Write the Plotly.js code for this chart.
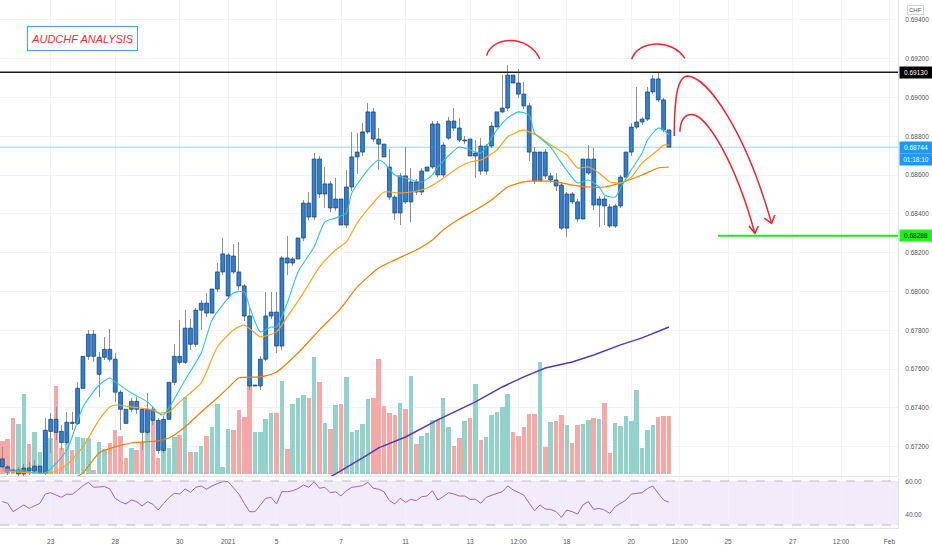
<!DOCTYPE html>
<html><head><meta charset="utf-8">
<script src="https://cdn.plot.ly/plotly-3.0.1.min.js"></script>
<style>html,body{margin:0;padding:0;background:#fff}#chart{width:932px;height:550px}</style>
</head><body><div id="chart"></div>
<script>
// ---- data (AUDCHF, 4h candles) ----
const openP = [0.67137,0.67096,0.67070,0.67080,0.67060,0.67090,0.67075,0.67100,0.67063,0.67279,
0.67341,0.67279,0.67222,0.67326,0.67320,0.67501,0.67666,0.67780,0.67661,0.67661,
0.67702,0.67651,0.67481,0.67393,0.67393,0.67434,0.67393,0.67274,0.67393,0.67336,
0.67181,0.67341,0.67532,0.67666,0.67635,0.67811,0.67728,0.67904,0.67940,0.67889,
0.68013,0.68101,0.67977,0.68183,0.68101,0.68029,0.67874,0.67513,0.67513,0.67651,
0.67874,0.67894,0.67719,0.68173,0.68147,0.68168,0.68276,0.68456,0.68384,0.68683,
0.68503,0.68555,0.68431,0.68477,0.68343,0.68539,0.68694,0.68719,0.68823,0.68926,
0.68786,0.68760,0.68642,0.68487,0.68405,0.68596,0.68462,0.68565,0.68513,0.68621,
0.68642,0.68864,0.68601,0.68791,0.68879,0.68843,0.68781,0.68786,0.68699,0.68750,
0.68621,0.68750,0.68848,0.68926,0.68946,0.69116,0.69075,0.69018,0.68957,0.68719,
0.68570,0.68719,0.68596,0.68575,0.68549,0.68327,0.68503,0.68462,0.68374,0.68611,
0.68683,0.68446,0.68477,0.68436,0.68338,0.68441,0.68590,0.68719,0.68848,0.68874,
0.68889,0.69029,0.69096,0.68988,0.68833];
const highP = [0.67199,0.67106,0.67100,0.67095,0.67110,0.67120,0.67130,0.67115,0.67347,0.67372,
0.67403,0.67310,0.67377,0.67377,0.67532,0.67687,0.67800,0.67800,0.67687,0.67764,
0.67806,0.67682,0.67490,0.67439,0.67450,0.67455,0.67400,0.67475,0.67410,0.67350,
0.67360,0.67584,0.67728,0.67852,0.67904,0.67857,0.67915,0.67955,0.67992,0.68198,
0.68147,0.68276,0.68200,0.68245,0.68255,0.68040,0.67915,0.67540,0.67670,0.67998,
0.67998,0.67998,0.68185,0.68286,0.68180,0.68359,0.68470,0.68513,0.68714,0.68700,
0.68642,0.68570,0.68585,0.68490,0.68627,0.68823,0.68817,0.68870,0.68972,0.68946,
0.68843,0.68807,0.68735,0.68500,0.68610,0.68745,0.68637,0.68580,0.68635,0.68655,
0.68880,0.68880,0.68770,0.68900,0.68946,0.68895,0.68800,0.68817,0.68781,0.68791,
0.68760,0.68874,0.68962,0.69116,0.69168,0.69168,0.69147,0.69080,0.68970,0.68745,
0.68745,0.68735,0.68610,0.68610,0.68560,0.68515,0.68515,0.68475,0.68755,0.68755,
0.68740,0.68490,0.68490,0.68450,0.68450,0.68600,0.68730,0.68870,0.69054,0.68900,
0.69054,0.69116,0.69126,0.69000,0.68936];
const lowP = [0.67090,0.67054,0.67050,0.67040,0.67045,0.67055,0.67060,0.67050,0.67052,0.67166,
0.67233,0.67181,0.67207,0.67285,0.67310,0.67465,0.67645,0.67635,0.67455,0.67645,
0.67635,0.67429,0.67284,0.67284,0.67380,0.67370,0.67181,0.67260,0.67310,0.67160,
0.67165,0.67330,0.67520,0.67620,0.67625,0.67700,0.67715,0.67801,0.67870,0.67842,
0.68000,0.68085,0.67960,0.68090,0.68010,0.67850,0.67490,0.67490,0.67490,0.67640,
0.67860,0.67683,0.67700,0.68085,0.68130,0.68044,0.68260,0.68370,0.68370,0.68480,
0.68431,0.68410,0.68415,0.68330,0.68328,0.68520,0.68606,0.68700,0.68810,0.68770,
0.68626,0.68680,0.68470,0.68369,0.68343,0.68450,0.68359,0.68500,0.68498,0.68610,
0.68630,0.68590,0.68590,0.68780,0.68830,0.68770,0.68760,0.68690,0.68585,0.68600,
0.68600,0.68740,0.68840,0.68920,0.68930,0.69060,0.69000,0.68940,0.68673,0.68555,
0.68343,0.68580,0.68560,0.68520,0.68317,0.68281,0.68450,0.68360,0.68276,0.68600,
0.68420,0.68333,0.68343,0.68330,0.68327,0.68430,0.68580,0.68700,0.68840,0.68860,
0.68880,0.69020,0.68975,0.68820,0.68730];
const closeP = [0.67096,0.67070,0.67080,0.67060,0.67090,0.67075,0.67100,0.67065,0.67285,0.67341,
0.67274,0.67222,0.67326,0.67320,0.67501,0.67666,0.67780,0.67666,0.67573,0.67702,
0.67651,0.67481,0.67393,0.67320,0.67434,0.67393,0.67274,0.67393,0.67336,0.67181,
0.67341,0.67532,0.67666,0.67635,0.67811,0.67728,0.67904,0.67940,0.67889,0.68013,
0.68101,0.68194,0.68188,0.68101,0.68029,0.67874,0.67513,0.67518,0.67651,0.67874,
0.67894,0.67719,0.68173,0.68147,0.68168,0.68276,0.68456,0.68384,0.68683,0.68503,
0.68555,0.68431,0.68477,0.68343,0.68539,0.68694,0.68719,0.68823,0.68926,0.68786,
0.68760,0.68694,0.68487,0.68405,0.68596,0.68462,0.68565,0.68513,0.68621,0.68642,
0.68864,0.68601,0.68755,0.68879,0.68843,0.68781,0.68776,0.68699,0.68714,0.68621,
0.68750,0.68853,0.68926,0.68946,0.69116,0.69075,0.69018,0.68957,0.68719,0.68570,
0.68719,0.68596,0.68575,0.68544,0.68327,0.68503,0.68462,0.68374,0.68683,0.68683,
0.68446,0.68477,0.68441,0.68338,0.68441,0.68590,0.68719,0.68848,0.68874,0.68889,
0.69029,0.69096,0.68988,0.68833,0.68744];
const volume = [33,35,56,50,80,30,42,22,42,36, 88,26,31,24,37,36,36,4,32,25,
31,44,38,16,26,24,32,44,56,16, 25,26,37,39,77,22,22,28,38,47,
70,7,45,44,64,57,92,42,42,55, 61,61,93,25,70,76,79,76,117,92,
51,45,69,70,97,42,44,50,75,76, 115,68,61,59,71,65,98,30,38,41,
54,55,76,47,28,36,53,56,90,34, 37,59,62,67,80,42,38,47,60,60,
112,27,52,53,59,49,31,49,50,54, 56,55,71,21,51,48,58,53,84,26,
44,49,57,58,58];
const volUp = [0,0,0,1,1,0,1,1,1,1, 0,0,1,0,1,1,1,0,1,1, 0,0,0,0,1,0,0,1,0,0,
1,1,1,0,1,0,1,1,0,1, 1,1,1,0,0,0,0,1,1,1, 1,0,1,0,1,1,1,0,1,0,
1,0,1,0,1,1,1,1,1,0, 0,0,0,0,1,0,1,0,1,1, 1,0,1,1,0,0,1,0,1,0,
1,1,1,1,1,0,0,0,0,0, 1,0,1,0,0,1,0,0,1,1, 0,1,0,0,1,1,1,1,1,1, 1,1,0,0,0];
const rsi = [48.1,47.1,42.0,44.0,46.1,44.0,45.5,47.1,52.7,53.5,
52.1,50.7,52.7,52.5,55.0,57.8,59.8,56.8,57.0,57.2,
55.8,50.1,48.0,46.7,49.1,48.1,45.5,48.1,46.5,43.0,
47.0,50.5,53.1,52.7,55.8,53.7,56.8,57.6,55.6,57.6,
59.0,60.2,60.2,56.2,52.7,47.1,42.0,42.0,46.1,50.1,
50.7,46.7,54.1,54.1,54.7,56.0,58.2,56.8,60.2,56.2,
56.8,53.5,54.1,51.5,54.7,56.8,57.2,57.8,59.8,56.2,
55.6,54.1,48.7,46.7,50.1,47.7,49.5,48.7,51.1,51.5,
54.7,49.1,51.1,53.5,52.7,51.5,51.5,49.5,49.5,47.1,
50.7,52.0,53.1,54.1,57.6,55.2,53.5,52.1,47.1,42.6,
46.1,43.6,43.4,42.0,38.6,43.0,42.0,40.6,46.1,48.1,
43.4,44.0,43.0,41.0,45.0,47.0,49.1,52.7,53.2,53.5,
56.0,57.6,53.1,49.1,47.7];
// moving averages read at the candles where they were legible
const emaFastIdx = [0,4,8,12,15,18,20,21,24,27,28,29,30,31,34,37,39,41,43,45,46,48,50,51,53,55,58,60,62,64,65,68,70,71,73,75,78,80,81,85,87,89,92,94,96,98,99,102,104,107,109,111,112,114,115,117,119,120,122,123,124];
const emaFastVal = [0.67085,0.67075,0.67065,0.67183,0.67405,0.67518,0.67554,0.67534,0.67477,0.67431,0.67405,0.67374,0.67364,0.67400,0.67544,0.67683,0.67853,0.67931,0.67993,0.67998,0.67920,0.67792,0.67817,0.67817,0.67941,0.68101,0.68230,0.68359,0.68379,0.68405,0.68508,0.68627,0.68678,0.68663,0.68601,0.68585,0.68565,0.68601,0.68642,0.68745,0.68730,0.68714,0.68833,0.68895,0.68926,0.68910,0.68817,0.68745,0.68663,0.68560,0.68575,0.68539,0.68498,0.68487,0.68534,0.68627,0.68714,0.68781,0.68843,0.68833,0.68807];
const emaMidIdx = [0,4,9,12,15,18,20,21,24,28,29,31,33,37,40,43,45,47,48,51,53,56,59,62,64,66,69,71,74,76,79,81,85,87,89,92,94,97,98,100,102,105,107,109,111,113,115,117,119,122,123,124];
const emaMidVal = [0.67075,0.67068,0.67065,0.67106,0.67199,0.67338,0.67405,0.67415,0.67405,0.67389,0.67374,0.67379,0.67431,0.67529,0.67714,0.67802,0.67827,0.67786,0.67766,0.67792,0.67869,0.67993,0.68127,0.68214,0.68256,0.68353,0.68457,0.68513,0.68508,0.68513,0.68534,0.68565,0.68642,0.68668,0.68678,0.68730,0.68797,0.68833,0.68823,0.68797,0.68755,0.68704,0.68637,0.68642,0.68611,0.68565,0.68560,0.68590,0.68663,0.68730,0.68755,0.68755];
const emaSlowIdx = [12,15,18,21,24,29,31,34,37,40,42,44,48,51,55,59,63,66,70,73,77,80,82,85,88,91,94,97,100,103,106,109,112,115,119,122,124];
const emaSlowVal = [0.67020,0.67065,0.67168,0.67199,0.67219,0.67230,0.67245,0.67302,0.67379,0.67451,0.67503,0.67554,0.67560,0.67585,0.67683,0.67802,0.67915,0.68023,0.68121,0.68163,0.68214,0.68266,0.68317,0.68374,0.68420,0.68472,0.68539,0.68565,0.68570,0.68565,0.68549,0.68539,0.68539,0.68560,0.68601,0.68637,0.68642];
const ema200Idx = [60,62,67,70,75,81,88,93,97,101,106,110,115,119,124];
const ema200Val = [0.67029,0.67060,0.67142,0.67194,0.67250,0.67338,0.67431,0.67508,0.67560,0.67606,0.67637,0.67673,0.67725,0.67761,0.67817];
// axis labels
const tickIdx = [9,21,33,42,51,63,75,87,96,105,117,126,135,147,156,165];
const tickText = ['23','28','30','2021','5','7','11','13','12:00','18','20','12:00','25','27','12:00','Feb'];
const priceTicks = [0.672,0.674,0.676,0.678,0.680,0.682,0.684,0.686,0.688,0.690,0.692,0.694];
const resistance = 0.69130, lastPrice = 0.68744, target = 0.68288;
const countdown = '01:18:10';
const titleText = 'AUDCHF ANALYSIS';

// ---- build traces ----
const idx = openP.map((_, i) => i);
const F = 'Liberation Sans, Arial, sans-serif';
const traces = [];
traces.push({type:'bar', x:idx, y:volume, xaxis:'x', yaxis:'y', width:0.84,
  marker:{color:volUp.map(u => u ? '#93d2cb' : '#f6a8a7'), line:{width:0}}, hoverinfo:'skip'});
traces.push({type:'bar', x:idx, base:lowP, y:idx.map(i => highP[i]-lowP[i]), xaxis:'x', yaxis:'y2', width:0.16,
  marker:{color:'#8d909a', line:{width:0}}, hoverinfo:'skip'});
traces.push({type:'bar', x:idx, base:idx.map(i => Math.min(openP[i], closeP[i])),
  y:idx.map(i => Math.max(Math.abs(closeP[i]-openP[i]), 0.00001)), xaxis:'x', yaxis:'y2', width:0.72,
  marker:{color:'#2f80d4', line:{color:'#15395e', width:0.7}}, hoverinfo:'skip'});
traces.push({type:'scatter', mode:'lines', x:ema200Idx, y:ema200Val, xaxis:'x', yaxis:'y2', line:{color:'#5438b8', width:1.5}, hoverinfo:'skip'});
traces.push({type:'scatter', mode:'lines', x:emaSlowIdx, y:emaSlowVal, xaxis:'x', yaxis:'y2', line:{color:'#f57c00', width:1.2, shape:'spline', smoothing:0.6}, hoverinfo:'skip'});
traces.push({type:'scatter', mode:'lines', x:emaMidIdx, y:emaMidVal, xaxis:'x', yaxis:'y2', line:{color:'#ffa31a', width:1.2, shape:'spline', smoothing:0.6}, hoverinfo:'skip'});
traces.push({type:'scatter', mode:'lines', x:emaFastIdx, y:emaFastVal, xaxis:'x', yaxis:'y2', line:{color:'#2ec4d6', width:1.1, shape:'spline', smoothing:0.6}, hoverinfo:'skip'});
traces.push({type:'scatter', mode:'lines', x:idx, y:rsi, xaxis:'x', yaxis:'y3', line:{color:'#a061c4', width:1}, hoverinfo:'skip'});

// drawings (in data coordinates: candle index, price)
const red = '#e8262b';
const shapes = [
  {type:'rect', xref:'paper', x0:0, x1:1, yref:'y3 domain', y0:0.06, y1:0.94, fillcolor:'rgba(155,110,220,0.13)', line:{width:0}, layer:'below'},
  {type:'line', xref:'paper', x0:0, x1:1, yref:'y3 domain', y0:0.94, y1:0.94, line:{color:'#bdb3cc', width:1, dash:'dash'}},
  {type:'line', xref:'paper', x0:0, x1:1, yref:'y3 domain', y0:0.06, y1:0.06, line:{color:'#bdb3cc', width:1, dash:'dash'}},
  {type:'line', xref:'paper', x0:0, x1:1, yref:'paper', y0:0.0975, y1:0.0975, line:{color:'#e0e3eb', width:1}},
  {type:'line', xref:'paper', x0:0, x1:1, yref:'y2', y0:lastPrice, y1:lastPrice, line:{color:'rgba(33,150,243,0.45)', width:1}},
  {type:'line', xref:'paper', x0:0, x1:1, yref:'y2', y0:resistance, y1:resistance, line:{color:'#1a1a1a', width:1.5}},
  {type:'line', xref:'paper', x0:0.7996, x1:1, yref:'y2', y0:target, y1:target, line:{color:'#1ee81e', width:2}},
  {type:'path', xref:'x', yref:'y2', path:'M 90.09,0.69216 C 91.07,0.69317 97.77,0.69328 100.0,0.69199', line:{color:red, width:1.5}},
  {type:'path', xref:'x', yref:'y2', path:'M 117.05,0.69197 C 118.23,0.69297 124.55,0.69307 126.97,0.69202', line:{color:red, width:1.5}},
  {type:'path', xref:'x', yref:'y2', path:'M 124.98,0.68802 C 125.01,0.68988 125.48,0.69111 127.53,0.69111 C 131.24,0.69101 138.13,0.68833 143.09,0.68352', line:{color:red, width:1.5}},
  {type:'path', xref:'x', yref:'y2', path:'M 141.72,0.68379 L 143.09,0.68352 L 143.71,0.68395', line:{color:red, width:1.5}},
  {type:'path', xref:'x', yref:'y2', path:'M 126.04,0.68824 C 126.13,0.68884 126.97,0.68913 128.27,0.68913 C 130.87,0.68913 136.26,0.68678 139.98,0.68300', line:{color:red, width:1.5}},
  {type:'path', xref:'x', yref:'y2', path:'M 138.87,0.68338 L 139.98,0.68300 L 140.64,0.68338', line:{color:red, width:1.5}}
];

const tagFont = (c) => ({family:F, size:6.5, color:c});
const annotations = [
  {xref:'paper', yref:'paper', x:0.0919, y:0.928, xanchor:'center', yanchor:'middle', showarrow:false,
   text:'<i>'+titleText+'</i>', font:{family:'Liberation Sans, Arial, sans-serif', size:11, color:'#e8302f'},
   bgcolor:'#ffffff', bordercolor:'#4aa3f0', borderwidth:1, borderpad:3, width:103, height:17, align:'center'},
  {xref:'paper', yref:'paper', x:1.019, y:0.981, xanchor:'center', yanchor:'middle', showarrow:false, text:'CHF',
   font:{family:F, size:6, color:'#555'}, bgcolor:'#fff', bordercolor:'#d1d4dc', borderwidth:1, borderpad:1},
  {xref:'paper', yref:'y2', x:1, y:resistance, xanchor:'left', yanchor:'middle', xshift:1, showarrow:false, text:resistance.toFixed(5),
   font:tagFont('#ffffff'), bgcolor:'#000000', width:30, height:9, align:'center'},
  {xref:'paper', yref:'y2', x:1, y:lastPrice, xanchor:'left', yanchor:'middle', xshift:1, showarrow:false, text:lastPrice.toFixed(5),
   font:tagFont('#ffffff'), bgcolor:'#2196f3', width:30, height:9, align:'center'},
  {xref:'paper', yref:'paper', x:1, y:1-159/528, xanchor:'left', yanchor:'middle', xshift:1, showarrow:false, text:countdown,
   font:tagFont('#ffffff'), bgcolor:'#2196f3', width:30, height:9, align:'center'},
  {xref:'paper', yref:'y2', x:1, y:target, xanchor:'left', yanchor:'middle', xshift:1, showarrow:false, text:target.toFixed(5),
   font:tagFont('#111111'), bgcolor:'#22ee22', width:30, height:9, align:'center'}
];

const layout = {
  width:932, height:550, margin:{l:0, r:34, t:0, b:22}, paper_bgcolor:'#fff', plot_bgcolor:'#fff',
  showlegend:false, barmode:'overlay', bargap:0,
  xaxis:{range:[-0.43,166.6], tickvals:tickIdx, ticktext:tickText, anchor:'y3', showgrid:true, gridcolor:'#f0f3fa',
    zeroline:false, ticks:'outside', ticklen:7, tickcolor:'rgba(0,0,0,0)', tickfont:{family:F, size:6.5, color:'#50535e'},
    showline:true, linecolor:'#e0e3eb', automargin:false, fixedrange:true},
  yaxis:{domain:[0.0985,1], range:[-2,474], visible:false, fixedrange:true, showgrid:false, zeroline:false},
  yaxis2:{overlaying:'y', side:'right', range:[0.67049,0.69503], tickvals:priceTicks, tickformat:'.5f',
    showgrid:true, gridcolor:'#f0f3fa', zeroline:false, ticks:'outside', ticklen:5, tickcolor:'rgba(0,0,0,0)',
    tickfont:{family:F, size:6.5, color:'#50535e'}, showline:true, linecolor:'#e0e3eb', automargin:false, fixedrange:true},
  yaxis3:{domain:[0,0.0947], range:[32.12,62.42], tickvals:[40,60], ticktext:['40.00','60.00'], side:'right',
    showgrid:false, zeroline:false, ticks:'outside', ticklen:5, tickcolor:'rgba(0,0,0,0)',
    tickfont:{family:F, size:6.5, color:'#50535e'}, showline:true, linecolor:'#e0e3eb', automargin:false, fixedrange:true},
  shapes:shapes, annotations:annotations
};
Plotly.newPlot('chart', traces, layout, {staticPlot:true, displayModeBar:false});
</script></body></html>
